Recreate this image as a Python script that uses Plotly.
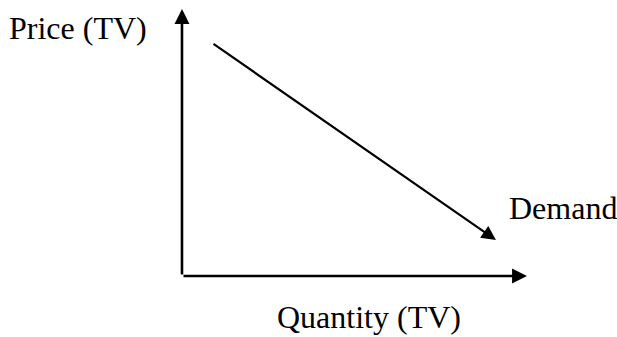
import plotly.graph_objects as go

# Data (abstract units: origin at 0,0)
quantity_axis = [0.0, 10.0]          # horizontal axis: start -> arrow tip
price_axis = [0.0, 10.0]             # vertical axis: start -> arrow tip
demand_quantity = [0.87, 9.10]       # demand curve: start -> arrow tip
demand_price = [8.73, 1.35]

labels = ["Price (TV)", "Demand", "Quantity (TV)"]
label_x = [-3.0, 11.03, 5.42]
label_y = [9.29, 2.55, -1.54]

FONT = "Liberation Serif, Times New Roman, serif"

fig = go.Figure()
# invisible trace so that the cartesian axes exist
fig.add_trace(go.Scatter(x=demand_quantity, y=demand_price, mode="lines",
                         line=dict(color="rgba(0,0,0,0)"), hoverinfo="skip",
                         showlegend=False))

# vertical (price) axis
fig.add_annotation(x=0, y=price_axis[1], ax=0, ay=price_axis[0],
                   xref="x", yref="y", axref="x", ayref="y",
                   showarrow=True, arrowhead=2, arrowwidth=2.6, arrowsize=1.15,
                   arrowcolor="black", text="")
# horizontal (quantity) axis
fig.add_annotation(x=quantity_axis[1], y=0, ax=quantity_axis[0], ay=0,
                   xref="x", yref="y", axref="x", ayref="y",
                   showarrow=True, arrowhead=2, arrowwidth=2.6, arrowsize=1.15,
                   arrowcolor="black", text="")
# demand line
fig.add_annotation(x=demand_quantity[1], y=demand_price[1],
                   ax=demand_quantity[0], ay=demand_price[0],
                   xref="x", yref="y", axref="x", ayref="y",
                   showarrow=True, arrowhead=2, arrowwidth=2.2, arrowsize=1.3,
                   arrowcolor="black", text="")

for t, x, y in zip(labels, label_x, label_y):
    fig.add_annotation(x=x, y=y, xref="x", yref="y", text=t, showarrow=False,
                       xanchor="center", yanchor="middle",
                       font=dict(family=FONT, size=32, color="black"))

fig.update_layout(
    width=617, height=337,
    margin=dict(l=0, r=0, t=0, b=0),
    paper_bgcolor="white", plot_bgcolor="white",
    showlegend=False,
    xaxis=dict(range=[-5.275, 12.609], visible=False, fixedrange=True),
    yaxis=dict(range=[-2.285, 10.337], visible=False, fixedrange=True),
)

fig.write_html("out.html", config={"displayModeBar": False},
               post_script="document.body.style.margin='0';"
                           "document.body.style.overflow='hidden';")
